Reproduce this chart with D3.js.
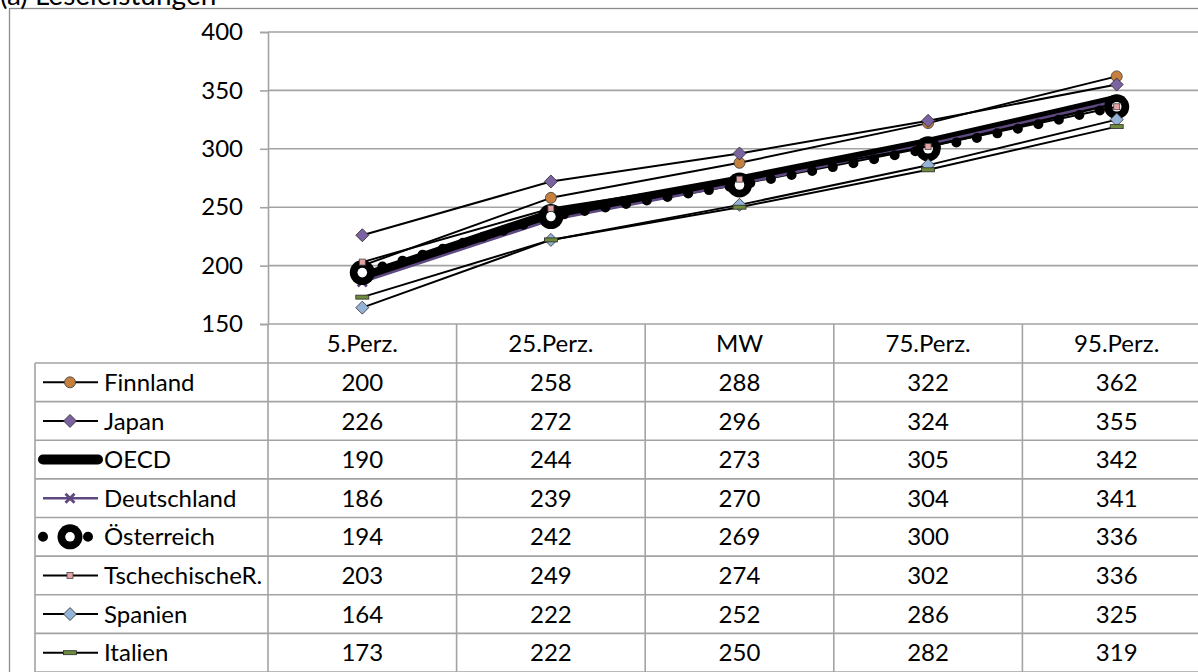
<!DOCTYPE html>
<html>
<head>
<meta charset="utf-8">
<script src="https://cdn.jsdelivr.net/npm/d3@7"></script>
<style>
  html, body { margin: 0; padding: 0; background: #fff; overflow: hidden; }
  svg { display: block; font-family: Lato, "Noto Sans", sans-serif; }
</style>
</head>
<body>
<svg id="chart" width="1198" height="672"></svg>
<script>
// ---- Data ----
const title = "(a) Leseleistungen";
const categories = ["5.Perz.", "25.Perz.", "MW", "75.Perz.", "95.Perz."];
const seriesNames = ["Finnland", "Japan", "OECD", "Deutschland", "Österreich", "TschechischeR.", "Spanien", "Italien"];
const finnland     = [200, 258, 288, 322, 362];
const japan        = [226, 272, 296, 324, 355];
const oecd         = [190, 244, 273, 305, 342];
const deutschland  = [186, 239, 270, 304, 341];
const oesterreich  = [194, 242, 269, 300, 336];
const tschechien   = [203, 249, 274, 302, 336];
const spanien      = [164, 222, 252, 286, 325];
const italien      = [173, 222, 250, 282, 319];
const yTicks = [150, 200, 250, 300, 350, 400];

const seriesValues = [finnland, japan, oecd, deutschland, oesterreich, tschechien, spanien, italien];

// ---- Styles per series ----
const styles = {
  "Finnland":       { stroke: "#000", width: 2, marker: "circle", fill: "#C4803C" },
  "Japan":          { stroke: "#000", width: 2, marker: "diamond", fill: "#7B62A0" },
  "OECD":           { stroke: "#000", width: 10, marker: "none" },
  "Deutschland":    { stroke: "#5E4880", width: 2.5, marker: "x", fill: "#5E4880" },
  "Österreich":     { stroke: "#000", width: 10, dash: "0 21", marker: "ring" },
  "TschechischeR.": { stroke: "#000", width: 2, marker: "square", fill: "#E6A3A3" },
  "Spanien":        { stroke: "#000", width: 2, marker: "diamond", fill: "#95B3D7" },
  "Italien":        { stroke: "#000", width: 2, marker: "dash", fill: "#6E8B3D" }
};

const svg = d3.select("#chart");
const W = 1198, H = 672;
const gridColor = "#a3a3a3";
const fontSize = 24;

// outer chart border
svg.append("rect").attr("x", 9.5).attr("y", 8.5).attr("width", 1300).attr("height", 800)
  .attr("fill", "none").attr("stroke", "#8c8c8c").attr("stroke-width", 1.3);

// title (clipped at top, as in the reference)
svg.append("text").attr("x", 0).attr("y", 5).attr("font-size", 28).attr("fill", "#000").text(title);

// ---- Scales ----
const plotLeft = 268, plotRight = 1211, plotTop = 32, plotBottom = 324;
const x = d3.scaleBand().domain(categories).range([plotLeft, plotRight]).padding(0);
const y = d3.scaleLinear().domain([150, 400]).range([plotBottom, plotTop]);
const cx = c => x(c) + x.bandwidth() / 2;

// gridlines
svg.append("g").selectAll("line").data(yTicks).join("line")
  .attr("x1", plotLeft).attr("x2", plotRight)
  .attr("y1", d => y(d)).attr("y2", d => y(d))
  .attr("stroke", gridColor).attr("stroke-width", 1.6);

// y axis
const yAxis = d3.axisLeft(y).tickValues(yTicks).tickSize(8).tickPadding(17).tickFormat(d3.format("d"));
const gy = svg.append("g").attr("transform", `translate(${plotLeft},0)`).call(yAxis);
gy.select(".domain").attr("stroke", gridColor).attr("stroke-width", 1.6);
gy.selectAll(".tick line").attr("stroke", gridColor).attr("stroke-width", 1.6);
gy.selectAll(".tick text").attr("font-size", fontSize).attr("font-family", "Lato").attr("fill", "#000");

// ---- Table ----
const rowTop = 363, rowH = (672 - 363) / 8, legendLeft = 35;
const tbl = svg.append("g");
tbl.selectAll("line.hv").data(d3.range(categories.length + 1)).join("line")
  .attr("x1", i => plotLeft + i * x.bandwidth()).attr("x2", i => plotLeft + i * x.bandwidth())
  .attr("y1", plotBottom).attr("y2", H + 2)
  .attr("stroke", gridColor).attr("stroke-width", 1.6);
tbl.append("line").attr("x1", legendLeft).attr("x2", legendLeft).attr("y1", rowTop).attr("y2", H + 2)
  .attr("stroke", gridColor).attr("stroke-width", 1.6);
tbl.selectAll("line.row").data(d3.range(seriesNames.length + 1)).join("line")
  .attr("x1", legendLeft).attr("x2", plotRight)
  .attr("y1", i => rowTop + i * rowH).attr("y2", i => rowTop + i * rowH)
  .attr("stroke", gridColor).attr("stroke-width", 1.6);
tbl.selectAll("text.hdr").data(categories).join("text")
  .attr("x", d => cx(d)).attr("y", (plotBottom + rowTop) / 2)
  .attr("dy", "0.36em").attr("text-anchor", "middle").attr("font-size", fontSize).text(d => d);
seriesNames.forEach((name, i) => {
  const yy = rowTop + i * rowH + rowH / 2;
  tbl.selectAll(null).data(seriesValues[i]).join("text")
    .attr("x", (d, j) => cx(categories[j])).attr("y", yy)
    .attr("dy", "0.36em").attr("text-anchor", "middle").attr("font-size", fontSize).text(d => d);
  tbl.append("text").attr("x", 104).attr("y", yy).attr("dy", "0.36em")
    .attr("font-size", fontSize).text(name);
});

// ---- Marker drawing ----
function drawMarker(g, type, st, px, py) {
  if (type === "circle") {
    g.append("circle").attr("cx", px).attr("cy", py).attr("r", 5.5)
      .attr("fill", st.fill).attr("stroke", "#3a3a3a").attr("stroke-width", 0.8);
  } else if (type === "diamond") {
    const s = 6.5;
    g.append("path").attr("d", `M${px},${py - s}L${px + s},${py}L${px},${py + s}L${px - s},${py}Z`)
      .attr("fill", st.fill).attr("stroke", "#2a2a2a").attr("stroke-width", 0.8);
  } else if (type === "x") {
    const s = 4.5;
    g.append("path").attr("d", `M${px - s},${py - s}L${px + s},${py + s}M${px - s},${py + s}L${px + s},${py - s}`)
      .attr("stroke", st.fill).attr("stroke-width", 2.8);
  } else if (type === "ring") {
    g.append("circle").attr("cx", px).attr("cy", py).attr("r", 12.5).attr("fill", "#000");
    g.append("circle").attr("cx", px).attr("cy", py).attr("r", 4.8).attr("fill", "#fff");
  } else if (type === "square") {
    g.append("rect").attr("x", px - 3).attr("y", py - 3).attr("width", 6).attr("height", 6)
      .attr("fill", st.fill).attr("stroke", "#444").attr("stroke-width", 0.8);
  } else if (type === "dash") {
    g.append("rect").attr("x", px - 6.5).attr("y", py - 2).attr("width", 13).attr("height", 4)
      .attr("fill", st.fill).attr("stroke", "#2a2a2a").attr("stroke-width", 0.8);
  }
}

// ---- Series lines ----
const line = d3.line().x((d, j) => cx(categories[j])).y(d => y(d));
const plot = svg.append("g");
seriesNames.forEach((name, i) => {
  const st = styles[name];
  const g = plot.append("g");
  g.append("path").datum(seriesValues[i]).attr("d", line)
    .attr("fill", "none").attr("stroke", st.stroke).attr("stroke-width", st.width)
    .attr("stroke-linecap", "round").attr("stroke-linejoin", "round")
    .attr("stroke-dasharray", st.dash || null);
  seriesValues[i].forEach((v, j) => drawMarker(g, st.marker, st, cx(categories[j]), y(v)));
});

// ---- Legend keys ----
seriesNames.forEach((name, i) => {
  const st = styles[name];
  const yy = rowTop + i * rowH + rowH / 2;
  const g = svg.append("g");
  g.append("line").attr("x1", 43).attr("x2", 98).attr("y1", yy).attr("y2", yy)
    .attr("stroke", st.stroke).attr("stroke-width", st.width)
    .attr("stroke-linecap", st.width > 5 ? "round" : "butt")
    .attr("stroke-dasharray", st.dash ? "0 22.5" : null);
  drawMarker(g, st.marker, st, 70, yy);
});
</script>
</body>
</html>
